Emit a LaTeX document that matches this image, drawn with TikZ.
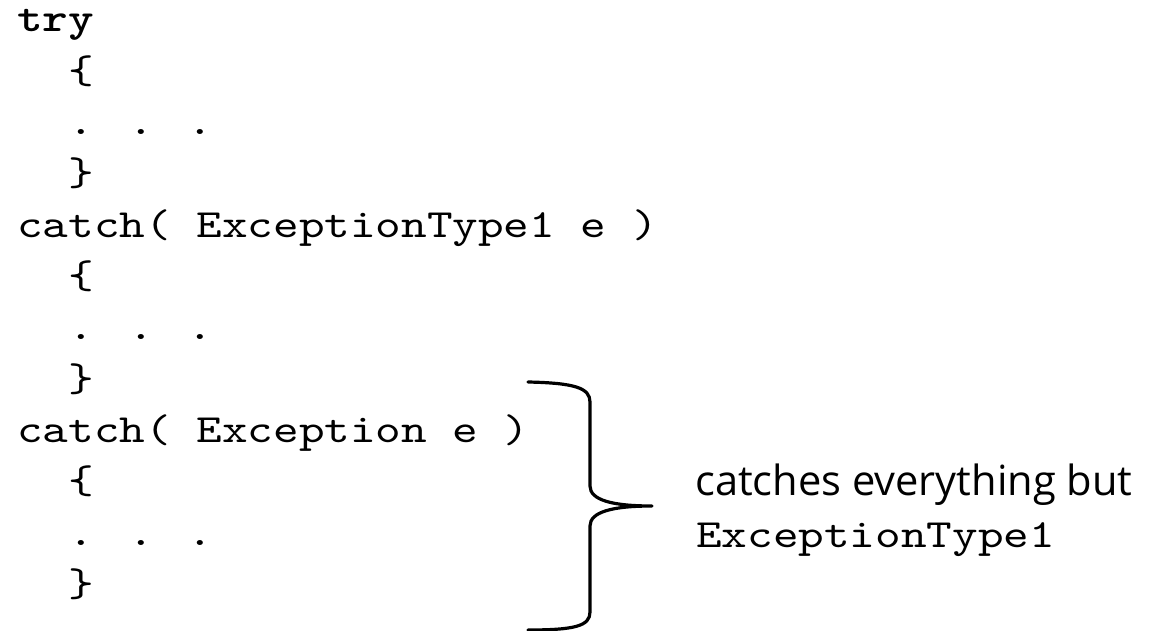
\documentclass[tikz,border=0pt]{standalone}
\usepackage{fontspec}
\newfontfamily\codefont{lmmono10-regular.otf}[BoldFont=lmmonolt10-bold.otf, FakeStretch=1.22]
\newfontfamily\notefont{Open Sans}
\usetikzlibrary{positioning}

\begin{document}
\begin{tikzpicture}[x=0.75pt, y=-0.75pt,
    codeline/.style={anchor=base west, inner sep=0pt, font=\codefont\fontsize{30}{36}\selectfont},
    note/.style={anchor=base west, inner sep=0pt, font=\notefont\fontsize{31.2}{36}\selectfont}]
  \useasboundingbox (0,0) rectangle (1171,631);
  % code lines, one per row
  \foreach \x/\t [count=\i] in {
    0/\textbf{try},
    2/\{,
    2/. . .,
    2/\},
    0/catch( ExceptionType1 e ),
    2/\{,
    2/. . .,
    2/\},
    0/catch( Exception e ),
    2/\{,
    2/. . .,
    2/\}} {
    \node[codeline] (line\i) at ({17+\x*25.6},{32+(\i-1)*51.3}) {\t};
  }
  % brace round the last handler
  \draw[line width=2.4pt, line cap=round, line join=round]
    (528,382) .. controls (575,383) and (590,388) .. (590,402)
    -- (590,486) .. controls (590,500) and (612,506) .. (652,506)
    .. controls (612,506) and (590,512) .. (590,526)
    -- (590,612) .. controls (590,626) and (575,630) .. (528,630);
  \coordinate (tip) at (652,506);
  \node[note] (catches) at (695,495) {catches everything but};
  \node[codeline] (exc) at (696,547) {ExceptionType1};
\end{tikzpicture}
\end{document}
